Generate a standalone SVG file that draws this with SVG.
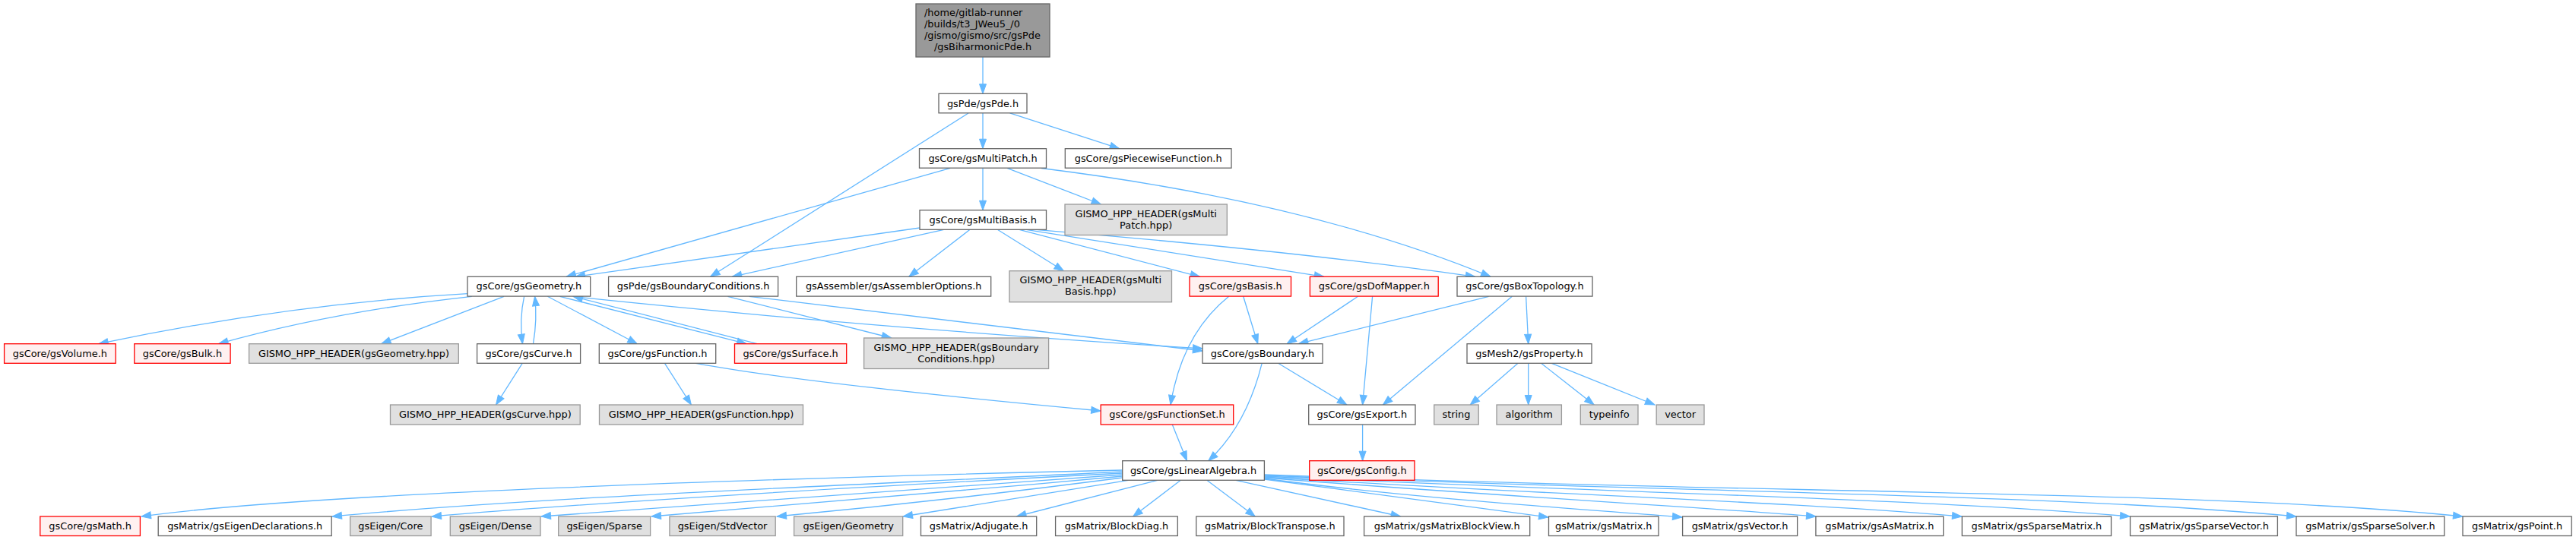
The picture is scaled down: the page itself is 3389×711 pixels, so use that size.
<svg xmlns="http://www.w3.org/2000/svg" width="3389" height="711" viewBox="0 0 3389 711">
<style>
rect{stroke-width:1.3}
.w{fill:#ffffff;stroke:#666666}
.r{fill:#fff0f0;stroke:#ff0000}
.g{fill:#e0e0e0;stroke:#999999}
.d{fill:#999999;stroke:#666666}
text{font-family:"DejaVu Sans","Liberation Sans",sans-serif;font-size:12.9px;fill:#000;text-anchor:middle}
text.s{text-anchor:start}
#edges path{fill:none;stroke:#63b8ff;stroke-width:1.3;marker-end:url(#a)}
</style>
<defs>
<marker id="a" markerWidth="13" markerHeight="10" refX="12.5" refY="4.5" orient="auto" markerUnits="userSpaceOnUse" overflow="visible">
<path d="M0,0 L12.5,4.5 L0,9 z" fill="#63b8ff" stroke="#63b8ff" stroke-width="1"/>
</marker>
</defs>
<rect width="3389" height="711" fill="#ffffff"/>
<g id="edges">
<path d="M1293,75 L1293,123.3"/>
<path d="M1293,148.8 L1293,195.7"/>
<path d="M1328.6,148.8 L1472.7,195.7"/>
<path d="M1274,149 L934.6,364.3"/>
<path d="M1250.3,221.3 L745,364.3"/>
<path d="M1293,221.3 L1293,276.7"/>
<path d="M1325,221.3 L1448.5,269"/>
<path d="M1370,221.5 Q1720,265 1961,364.3"/>
<path d="M1210,300 L757,364.3"/>
<path d="M1241.7,302.3 L963.3,364.3"/>
<path d="M1276,302.3 L1195.8,364.3"/>
<path d="M1312.3,302.3 L1399.5,356.7"/>
<path d="M1341,302.3 L1578.6,364.3"/>
<path d="M1350,302.3 L1741.8,364.3"/>
<path d="M1362,302.3 Q1700,330 1940.8,364.3"/>
<path d="M615.2,386.7 Q380,400 129.8,452.7"/>
<path d="M620.8,390.3 Q440,410 287.6,452.7"/>
<path d="M663,390.3 L501.6,452.7"/>
<path d="M689.6,390.3 Q683,420 687.5,452.7"/>
<path d="M701.5,452.7 Q707,420 703.6,390.3"/>
<path d="M720.4,390.3 L838.3,452.7"/>
<path d="M736.6,390.3 L982.1,452.7"/>
<path d="M996.1,452.7 L754.1,390.3"/>
<path d="M764.6,391.7 Q1150,432 1582,459"/>
<path d="M957.5,390.3 L1172.7,445"/>
<path d="M985.6,390.3 L1582,462"/>
<path d="M687.2,478.3 L652.5,533"/>
<path d="M874.5,478.3 L909.4,533"/>
<path d="M915.5,478.3 Q1060,505 1448.2,541"/>
<path d="M1635.7,390.3 L1654.8,452.7"/>
<path d="M1616.6,390.3 Q1555,440 1540,533"/>
<path d="M1786.5,390.3 L1693,452.7"/>
<path d="M1805.6,390.3 L1792.6,533"/>
<path d="M1958.6,390.3 L1708.4,452.7"/>
<path d="M1989.3,390.3 L1819.4,533"/>
<path d="M2007.6,390.3 L2010.7,452.7"/>
<path d="M1997,478.3 L1934.2,533"/>
<path d="M2010.7,478.3 L2010.7,533"/>
<path d="M2027.6,478.3 L2097.2,533"/>
<path d="M2041.3,478.3 L2177,533"/>
<path d="M1681.6,478.3 L1771.9,533"/>
<path d="M1660.2,478.3 Q1640,560 1589.8,606.7"/>
<path d="M1542.3,559 L1561.5,606.7"/>
<path d="M1792.6,559 L1792.6,606.7"/>
<path d="M1476.7,619 C1000,630 400,650 186,680"/>
<path d="M1476.7,621 C1100,640 700,655 437,680"/>
<path d="M1476.7,623 C1150,640 800,660 568,680"/>
<path d="M1476.7,625 C1200,645 900,665 712,680"/>
<path d="M1476.7,627 C1250,648 1000,668 857,680"/>
<path d="M1476.7,629 C1300,652 1150,668 1022,680"/>
<path d="M1484.4,632.3 L1188,680"/>
<path d="M1522.7,632.3 L1337.5,680"/>
<path d="M1553.3,632.3 L1490.6,680"/>
<path d="M1587.8,632.3 L1651.3,680"/>
<path d="M1626,632.3 L1842.6,680"/>
<path d="M1663.4,631 L2037,681"/>
<path d="M1663.4,630 C1850,655 2050,668 2213,681"/>
<path d="M1663.4,629 C1950,652 2200,665 2389,680"/>
<path d="M1663.4,628 C2000,650 2350,660 2581,680"/>
<path d="M1663.4,627 C2100,648 2500,655 2802,680"/>
<path d="M1663.4,626 C2200,648 2700,650 3021,680"/>
<path d="M1663.4,625 C2300,650 2900,645 3240,680"/>
</g>
<g id="n_top"><rect class="d" x="1205" y="5" width="176" height="70"/><text class="s" x="1216" y="20.5">/home/gitlab-runner</text><text class="s" x="1216" y="36.2">/builds/t3_JWeu5_/0</text><text class="s" x="1216" y="51.2">/gismo/gismo/src/gsPde</text><text x="1293" y="66.2">/gsBiharmonicPde.h</text></g>
<g id="n_pde"><rect class="w" x="1235" y="123.3" width="116" height="25.5"/><text x="1293" y="140.5">gsPde/gsPde.h</text></g>
<g id="n_mp"><rect class="w" x="1209.5" y="195.7" width="167" height="25.5"/><text x="1293" y="212.9">gsCore/gsMultiPatch.h</text></g>
<g id="n_pw"><rect class="w" x="1401.3" y="195.7" width="218.7" height="25.5"/><text x="1510.65" y="212.9">gsCore/gsPiecewiseFunction.h</text></g>
<g id="n_mb"><rect class="w" x="1210" y="276.7" width="166.5" height="25.6"/><text x="1293.25" y="294">gsCore/gsMultiBasis.h</text></g>
<g id="n_mph"><rect class="g" x="1401" y="269" width="213.3" height="40.5"/><text x="1507.65" y="285.5">GISMO_HPP_HEADER(gsMulti</text><text x="1507.65" y="300.5">Patch.hpp)</text></g>
<g id="n_geo"><rect class="w" x="615" y="364.3" width="161.7" height="25.8"/><text x="695.85" y="381.4">gsCore/gsGeometry.h</text></g>
<g id="n_bc"><rect class="w" x="800.6" y="364.3" width="223" height="25.8"/><text x="912.1" y="381.4">gsPde/gsBoundaryConditions.h</text></g>
<g id="n_ao"><rect class="w" x="1047.7" y="364.3" width="256" height="25.8"/><text x="1175.7" y="381.4">gsAssembler/gsAssemblerOptions.h</text></g>
<g id="n_mbh"><rect class="g" x="1328" y="356.7" width="213.5" height="41"/><text x="1434.75" y="373.4">GISMO_HPP_HEADER(gsMulti</text><text x="1434.75" y="388.4">Basis.hpp)</text></g>
<g id="n_basis"><rect class="r" x="1565" y="364.3" width="133.5" height="25.8"/><text x="1631.75" y="381.4">gsCore/gsBasis.h</text></g>
<g id="n_dof"><rect class="r" x="1723.4" y="364.3" width="168.8" height="25.8"/><text x="1807.8" y="381.4">gsCore/gsDofMapper.h</text></g>
<g id="n_bt"><rect class="w" x="1917" y="364.3" width="178" height="25.8"/><text x="2006" y="381.4">gsCore/gsBoxTopology.h</text></g>
<g id="n_vol"><rect class="r" x="5.6" y="452.7" width="146.6" height="25.6"/><text x="78.9" y="469.7">gsCore/gsVolume.h</text></g>
<g id="n_bulk"><rect class="r" x="176.8" y="452.7" width="126.3" height="25.6"/><text x="239.95" y="469.7">gsCore/gsBulk.h</text></g>
<g id="n_geoh"><rect class="g" x="327.6" y="452.7" width="275.7" height="25.6"/><text x="465.45" y="469.7">GISMO_HPP_HEADER(gsGeometry.hpp)</text></g>
<g id="n_curve"><rect class="w" x="627.6" y="452.7" width="136" height="25.6"/><text x="695.6" y="469.7">gsCore/gsCurve.h</text></g>
<g id="n_func"><rect class="w" x="788.3" y="452.7" width="153.4" height="25.6"/><text x="865" y="469.7">gsCore/gsFunction.h</text></g>
<g id="n_surf"><rect class="r" x="966.5" y="452.7" width="147.2" height="25.6"/><text x="1040.1" y="469.7">gsCore/gsSurface.h</text></g>
<g id="n_bch"><rect class="g" x="1136.6" y="445" width="243" height="40.5"/><text x="1258.1" y="461.5">GISMO_HPP_HEADER(gsBoundary</text><text x="1258.1" y="476.5">Conditions.hpp)</text></g>
<g id="n_bnd"><rect class="w" x="1582" y="452.7" width="158" height="25.6"/><text x="1661" y="469.7">gsCore/gsBoundary.h</text></g>
<g id="n_prop"><rect class="w" x="1930" y="452.7" width="164" height="25.6"/><text x="2012" y="469.7">gsMesh2/gsProperty.h</text></g>
<g id="n_curveh"><rect class="g" x="513.5" y="533" width="249.7" height="26"/><text x="638.35" y="550.2">GISMO_HPP_HEADER(gsCurve.hpp)</text></g>
<g id="n_funch"><rect class="g" x="788.5" y="533" width="268" height="26"/><text x="922.5" y="550.2">GISMO_HPP_HEADER(gsFunction.hpp)</text></g>
<g id="n_fs"><rect class="r" x="1448.2" y="533" width="174.5" height="26"/><text x="1535.45" y="550.2">gsCore/gsFunctionSet.h</text></g>
<g id="n_exp"><rect class="w" x="1721.7" y="533" width="140.3" height="26"/><text x="1791.85" y="550.2">gsCore/gsExport.h</text></g>
<g id="n_str"><rect class="g" x="1886.7" y="533" width="58.5" height="26"/><text x="1915.95" y="550.2">string</text></g>
<g id="n_alg"><rect class="g" x="1969" y="533" width="85.4" height="26"/><text x="2011.7" y="550.2">algorithm</text></g>
<g id="n_ti"><rect class="g" x="2079.3" y="533" width="75.7" height="26"/><text x="2117.15" y="550.2">typeinfo</text></g>
<g id="n_vec"><rect class="g" x="2179.2" y="533" width="62.8" height="26"/><text x="2210.6" y="550.2">vector</text></g>
<g id="n_la"><rect class="w" x="1476.7" y="606.7" width="186.7" height="25.6"/><text x="1570.05" y="623.7">gsCore/gsLinearAlgebra.h</text></g>
<g id="n_cfg"><rect class="r" x="1722.7" y="606.7" width="138.3" height="25.6"/><text x="1791.85" y="623.7">gsCore/gsConfig.h</text></g>
<g id="n_math"><rect class="r" x="52.8" y="680" width="131.6" height="25.5"/><text x="118.6" y="696.9">gsCore/gsMath.h</text></g>
<g id="n_ed"><rect class="w" x="208.2" y="680" width="228" height="25.5"/><text x="322.2" y="696.9">gsMatrix/gsEigenDeclarations.h</text></g>
<g id="n_ecore"><rect class="g" x="460.7" y="680" width="106.4" height="25.5"/><text x="513.9" y="696.9">gsEigen/Core</text></g>
<g id="n_edense"><rect class="g" x="592.3" y="680" width="118.7" height="25.5"/><text x="651.65" y="696.9">gsEigen/Dense</text></g>
<g id="n_esparse"><rect class="g" x="734.7" y="680" width="120.9" height="25.5"/><text x="795.15" y="696.9">gsEigen/Sparse</text></g>
<g id="n_estd"><rect class="g" x="880.9" y="680" width="139.3" height="25.5"/><text x="950.55" y="696.9">gsEigen/StdVector</text></g>
<g id="n_egeo"><rect class="g" x="1044.6" y="680" width="143.1" height="25.5"/><text x="1116.15" y="696.9">gsEigen/Geometry</text></g>
<g id="n_adj"><rect class="w" x="1211.5" y="680" width="152.2" height="25.5"/><text x="1287.6" y="696.9">gsMatrix/Adjugate.h</text></g>
<g id="n_bd"><rect class="w" x="1388.6" y="680" width="160.7" height="25.5"/><text x="1468.95" y="696.9">gsMatrix/BlockDiag.h</text></g>
<g id="n_btr"><rect class="w" x="1573.8" y="680" width="194.2" height="25.5"/><text x="1670.9" y="696.9">gsMatrix/BlockTranspose.h</text></g>
<g id="n_mbv"><rect class="w" x="1794.6" y="680" width="218.1" height="25.5"/><text x="1903.65" y="696.9">gsMatrix/gsMatrixBlockView.h</text></g>
<g id="n_mat"><rect class="w" x="2037.5" y="680" width="144.5" height="25.5"/><text x="2109.75" y="696.9">gsMatrix/gsMatrix.h</text></g>
<g id="n_vecm"><rect class="w" x="2213.6" y="680" width="151" height="25.5"/><text x="2289.1" y="696.9">gsMatrix/gsVector.h</text></g>
<g id="n_asm"><rect class="w" x="2388.9" y="680" width="167.8" height="25.5"/><text x="2472.8" y="696.9">gsMatrix/gsAsMatrix.h</text></g>
<g id="n_spm"><rect class="w" x="2581.3" y="680" width="196.2" height="25.5"/><text x="2679.4" y="696.9">gsMatrix/gsSparseMatrix.h</text></g>
<g id="n_spv"><rect class="w" x="2802.5" y="680" width="193.9" height="25.5"/><text x="2899.45" y="696.9">gsMatrix/gsSparseVector.h</text></g>
<g id="n_sps"><rect class="w" x="3021" y="680" width="194.8" height="25.5"/><text x="3118.4" y="696.9">gsMatrix/gsSparseSolver.h</text></g>
<g id="n_pt"><rect class="w" x="3240" y="680" width="143.2" height="25.5"/><text x="3311.6" y="696.9">gsMatrix/gsPoint.h</text></g>
</svg>
